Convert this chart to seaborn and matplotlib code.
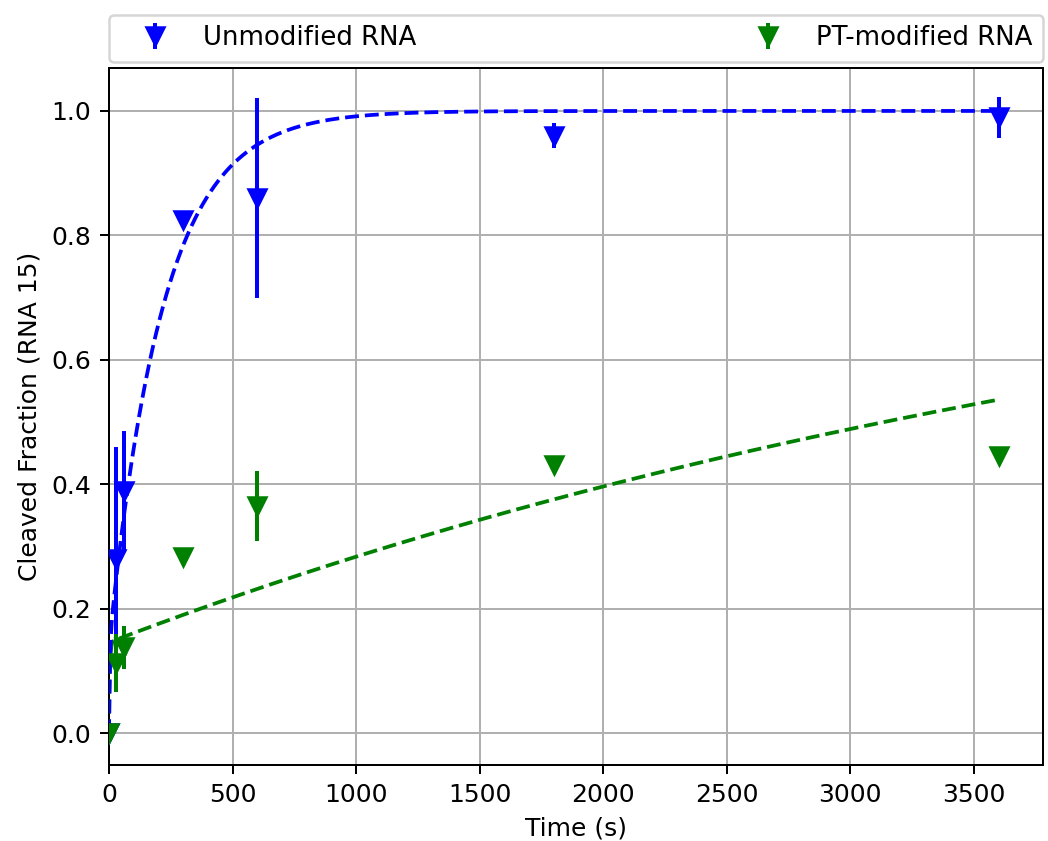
import numpy as np
import pandas as pd
import matplotlib
matplotlib.use("Agg")
import matplotlib.pyplot as plt
import seaborn as sns

# ---- data ----
time_s = [0, 30, 60, 300, 600, 1800, 3600]

unmod_frac = [0.0, 0.28, 0.39, 0.825, 0.86, 0.96, 0.99]
unmod_err = [0.0, 0.18, 0.095, 0.008, 0.16, 0.02, 0.033]

pt_frac = [0.0, 0.113, 0.138, 0.283, 0.365, 0.431, 0.445]
pt_err = [0.0, 0.046, 0.034, 0.006, 0.056, 0.008, 0.008]

# fitted two-phase kinetics parameters (burst + slow phase)
unmod_fast_amp, unmod_fast_k = 0.141, 0.3
unmod_slow_amp, unmod_slow_k = 0.859, 0.0046
pt_fast_amp, pt_fast_k = 0.146, 0.3
pt_slow_amp, pt_slow_k = 0.76, 2.0e-4

labels = ["Unmodified RNA", "PT-modified RNA"]
colors = ["blue", "green"]

t_fit = np.linspace(0, 3600, 3601)
unmod_fit = unmod_fast_amp * (1 - np.exp(-unmod_fast_k * t_fit)) + unmod_slow_amp * (1 - np.exp(-unmod_slow_k * t_fit))
pt_fit = pt_fast_amp * (1 - np.exp(-pt_fast_k * t_fit)) + pt_slow_amp * (1 - np.exp(-pt_slow_k * t_fit))

fit_df = pd.DataFrame({
    "t": np.concatenate([t_fit, t_fit]),
    "y": np.concatenate([unmod_fit, pt_fit]),
    "series": [labels[0]] * len(t_fit) + [labels[1]] * len(t_fit),
})

plt.rcParams["font.family"] = ["DejaVu Sans"]

DPI = 180
fig = plt.figure(figsize=(1048 / DPI, 841 / DPI), dpi=DPI)
ax = fig.add_axes([109 / 1048, 1 - 765 / 841, (1043 - 109) / 1048, (765 - 68) / 841])

sns.lineplot(data=fit_df, x="t", y="y", hue="series", hue_order=[labels[1], labels[0]],
             palette=dict(zip(labels, colors)),
             ax=ax, legend=False, linewidth=1.5, linestyle="--", zorder=3)

ax.errorbar(time_s, unmod_frac, yerr=unmod_err, fmt="v", color=colors[0], ms=7,
            elinewidth=1.6, capsize=0, label=labels[0], zorder=4)
ax.errorbar(time_s, pt_frac, yerr=pt_err, fmt="v", color=colors[1], ms=7,
            elinewidth=1.6, capsize=0, label=labels[1], zorder=4)

ax.set_xlim(0, 3780)
ax.set_ylim(-0.051, 1.069)
ax.set_xticks([0, 500, 1000, 1500, 2000, 2500, 3000, 3500])
ax.set_yticks([0.0, 0.2, 0.4, 0.6, 0.8, 1.0])
ax.grid(True, color="#b0b0b0", linewidth=0.8)
ax.set_axisbelow(True)

ax.set_xlabel("Time (s)")
ax.set_ylabel("Cleaved Fraction (RNA 15)")

ax.legend(loc="lower left", bbox_to_anchor=(0, 1.009, 1, 0.07), mode="expand", ncol=2,
          borderaxespad=0, frameon=True, fancybox=True, framealpha=0.8,
          fontsize=10.4, handlelength=2.7, handletextpad=0.5)

fig.savefig("out.png", dpi=DPI)
